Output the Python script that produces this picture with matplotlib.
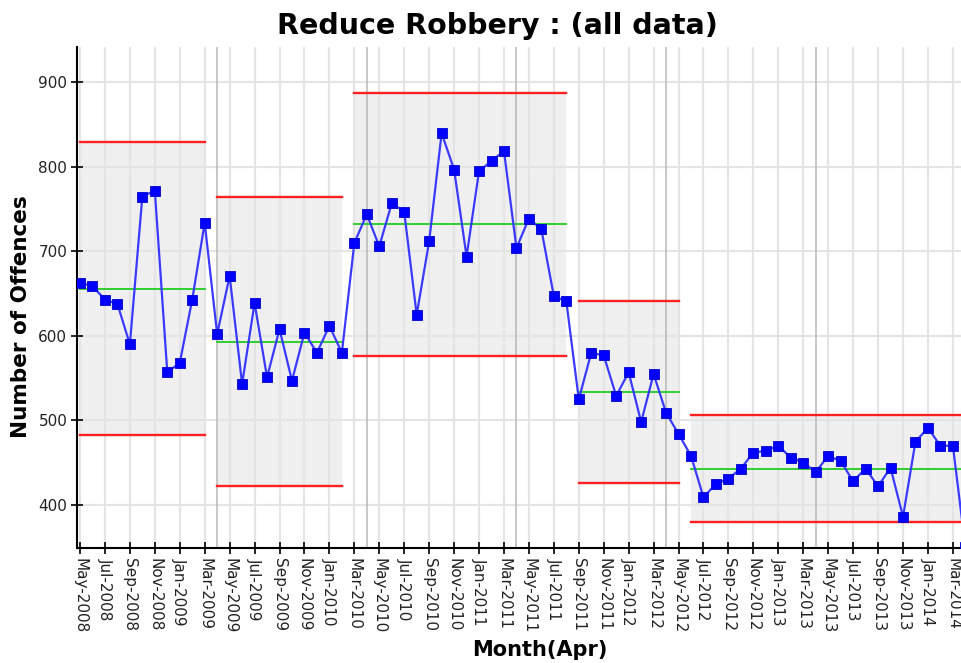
import matplotlib
matplotlib.use('Agg')
import matplotlib.pyplot as plt
import numpy as np
import pandas as pd

# monthly robbery counts, May 2008 .. Apr 2014
months = pd.date_range('2008-05-01', periods=72, freq='MS')
offences = [
    663, 659, 643, 638, 590, 765, 772, 557, 568, 643, 734,
    602, 671, 543, 639, 551, 608, 547, 604, 580, 612, 580,
    710, 744, 706, 757, 747, 625, 712, 840, 797, 694, 795, 807, 819, 704, 739, 726, 647, 641,
    525, 580, 577, 529, 557, 498, 555, 509, 484,
    458, 409, 425, 431, 443, 462, 464, 470, 456, 450, 439, 458, 452, 428, 443, 422, 444,
    386, 475, 491, 470, 470, 350,
]

# process-control segments (start month, mean, upper/lower limit)
seg_start = ['2008-05', '2009-04', '2010-03', '2011-09', '2012-06']
seg_mean = [656, 593, 733, 534, 443]
seg_ucl = [829, 764, 887, 641, 507]
seg_lcl = [483, 422, 576, 426, 380]

labels = [m.strftime('%b-%Y') for m in months]
X = np.arange(len(months))
starts = [labels.index(pd.Timestamp(s).strftime('%b-%Y')) for s in seg_start]
ends = [s - 1 for s in starts[1:]] + [len(months) + 2]

fig = plt.figure(figsize=(9.61, 6.63), dpi=100)
ax = fig.add_axes([77/961, 1 - 548/663, 1 - 77/961, (548 - 47)/663])

ax.set_xlim(-0.24, 70.65)
ax.set_ylim(349, 942)

for i in range(len(starts)):
    x0, x1 = starts[i], ends[i]
    ax.fill_between([x0, x1], seg_lcl[i], seg_ucl[i], color='#efefef', lw=0, zorder=0.2)
    ax.plot([x0, x1], [seg_ucl[i]] * 2, color='#ff2020', lw=1.7, zorder=2)
    ax.plot([x0, x1], [seg_lcl[i]] * 2, color='#ff2020', lw=1.7, zorder=2)
    ax.plot([x0, x1], [seg_mean[i]] * 2, color='#22cc22', lw=1.3, zorder=2)

# april year boundaries
for i, m in enumerate(months):
    if m.month == 4:
        ax.axvline(X[i], color='#b8b8b8', lw=1.1, zorder=0.6)

ax.plot(X, offences, '-', color='#3a3aff', lw=1.6, zorder=3)
ax.plot(X, offences, 's', color='#0000ff', ms=7.5, mec='#0000cc', mew=0.6, zorder=4)

ax.set_xticks(X[0:71:2])
ax.set_xticklabels(labels[0:71:2], rotation=-90, fontsize=11, color='#222222')
ax.set_yticks([400, 500, 600, 700, 800, 900])
ax.tick_params(axis='y', labelsize=11, labelcolor='#222222')
ax.tick_params(direction='inout', length=8, width=1.2, pad=3)

ax.set_axisbelow(True)
ax.grid(True, color='#e4e4e4', lw=1.5)
for s in ['top', 'right']:
    ax.spines[s].set_visible(False)
ax.spines['left'].set_linewidth(1.5)
ax.spines['bottom'].set_linewidth(1.5)

fig.text(497/961, 1 - 26/663, 'Reduce Robbery : (all data)', ha='center', va='center',
         fontsize=20.5, fontweight='bold')
fig.text(21/961, 1 - 317/663, 'Number of Offences', ha='center', va='center',
         rotation=90, fontsize=15.5, fontweight='bold')
fig.text(540/961, 1 - 650/663, 'Month(Apr)', ha='center', va='center',
         fontsize=15, fontweight='bold')

fig.savefig('out.png', dpi=100)
